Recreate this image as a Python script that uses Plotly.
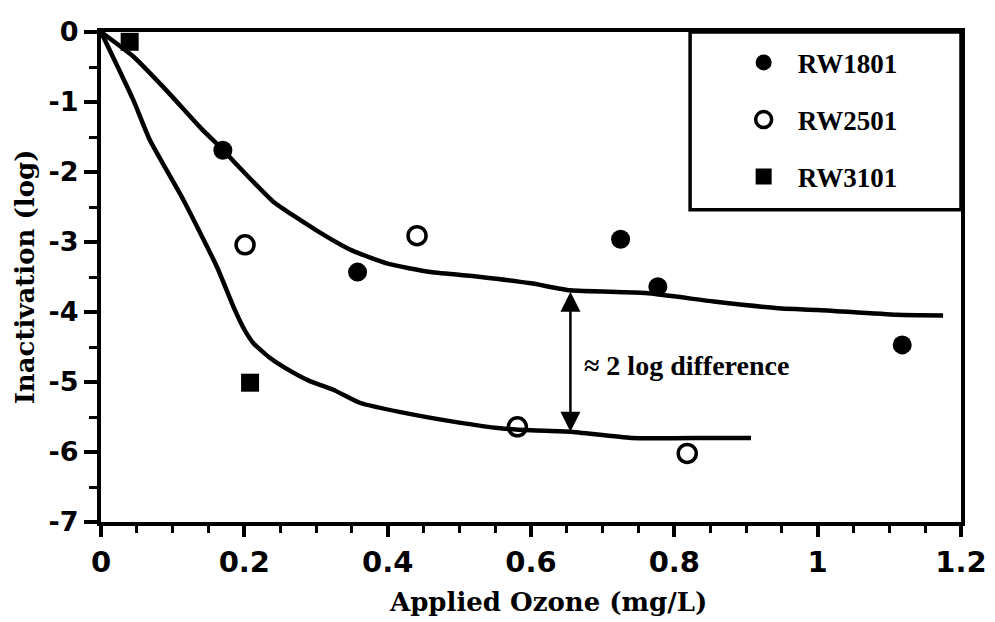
import plotly.graph_objects as go

# ---- data ----
rw1801_x = [0.17, 0.358, 0.725, 0.777, 1.118]
rw1801_y = [-1.69, -3.43, -2.96, -3.64, -4.47]

rw2501_x = [0.201, 0.441, 0.581, 0.818]
rw2501_y = [-3.04, -2.91, -5.64, -6.02]

rw3101_x = [0.04, 0.208]
rw3101_y = [-0.14, -5.01]

upper_x = [0, 0.045, 0.09, 0.14, 0.17, 0.19, 0.24, 0.3, 0.35, 0.4, 0.46, 0.53, 0.6, 0.655, 0.76, 0.855, 0.95, 1.0, 1.11, 1.175]
upper_y = [0, -0.35, -0.82, -1.38, -1.68, -1.9, -2.42, -2.83, -3.12, -3.31, -3.43, -3.5, -3.59, -3.69, -3.73, -3.85, -3.95, -3.97, -4.04, -4.05]

lower_x = [0, 0.045, 0.068, 0.115, 0.162, 0.185, 0.2, 0.213, 0.235, 0.254, 0.29, 0.324, 0.362, 0.418, 0.5, 0.557, 0.6, 0.655, 0.74, 0.85, 0.907]
lower_y = [0, -0.97, -1.54, -2.4, -3.36, -3.93, -4.25, -4.45, -4.65, -4.78, -4.98, -5.11, -5.3, -5.43, -5.58, -5.66, -5.69, -5.71, -5.8, -5.8, -5.8]

arrow_x = 0.655
arrow_top = -3.69
arrow_bottom = -5.71
note_text = "≈ 2 log difference"

x_ticks = [0, 0.2, 0.4, 0.6, 0.8, 1, 1.2]
x_ticktext = ["0", "0.2", "0.4", "0.6", "0.8", "1", "1.2"]
y_ticks = [0, -1, -2, -3, -4, -5, -6, -7]
y_ticktext = ["0", "-1", "-2", "-3", "-4", "-5", "-6", "-7"]

x_title = "Applied Ozone (mg/L)"
y_title = "Inactivation (log)"

serif = "Liberation Serif"
wide_serif = "DejaVu Serif"
sans = "DejaVu Sans"

fig = go.Figure()

fig.add_trace(go.Scatter(x=upper_x, y=upper_y, mode="lines", line=dict(color="black", width=4.5, shape="spline", smoothing=0.5),
                         showlegend=False, hoverinfo="skip"))
fig.add_trace(go.Scatter(x=lower_x, y=lower_y, mode="lines", line=dict(color="black", width=4.5, shape="spline", smoothing=0.5),
                         showlegend=False, hoverinfo="skip"))

fig.add_trace(go.Scatter(x=rw1801_x, y=rw1801_y, mode="markers", name="RW1801", legendgroup="a",
                         marker=dict(symbol="circle", size=19, color="black", line=dict(color="black", width=0))))
fig.add_trace(go.Scatter(x=rw2501_x, y=rw2501_y, mode="markers", name="RW2501", legendgroup="b",
                         marker=dict(symbol="circle-open", size=18, color="black", line=dict(color="black", width=3.5))))
fig.add_trace(go.Scatter(x=rw3101_x, y=rw3101_y, mode="markers", name="RW3101", legendgroup="c",
                         marker=dict(symbol="square", size=18, color="black", line=dict(color="black", width=0))))

# double-headed arrow
fig.add_annotation(x=arrow_x, y=arrow_bottom, ax=arrow_x, ay=arrow_top, xref="x", yref="y", axref="x", ayref="y",
                   text="", showarrow=True, arrowhead=2, startarrowhead=2, arrowside="end+start",
                   arrowsize=1.6, startarrowsize=1.6, arrowwidth=2.5, arrowcolor="black")
fig.add_annotation(x=arrow_x + 0.016, y=(arrow_top + arrow_bottom) / 2 - 0.07, xref="x", yref="y", text="<b>" + note_text + "</b>",
                   showarrow=False, xanchor="left", yanchor="middle",
                   font=dict(family=serif, size=28, color="black"))

# axis titles
fig.add_annotation(x=0.52, y=-0.163, xref="paper", yref="paper", text="<b>" + x_title + "</b>", showarrow=False,
                   xanchor="center", yanchor="middle", font=dict(family=wide_serif, size=26, color="black"))
fig.add_annotation(x=-0.088, y=0.5, xref="paper", yref="paper", text="<b>" + y_title + "</b>", showarrow=False,
                   textangle=-90, xanchor="center", yanchor="middle", font=dict(family=wide_serif, size=26, color="black"))

# legend box
fig.add_shape(type="rect", xref="paper", yref="paper", x0=0.685, x1=1.0, y0=0.637, y1=1.0,
              line=dict(color="black", width=3.5), fillcolor="rgba(0,0,0,0)", layer="above")

fig.update_layout(
    width=987, height=614,
    margin=dict(l=93, r=34, t=24, b=100),
    paper_bgcolor="white", plot_bgcolor="white",
    showlegend=True,
    legend=dict(x=0.731, y=0.987, xanchor="left", yanchor="top", bgcolor="rgba(0,0,0,0)", borderwidth=0,
                traceorder="grouped", tracegroupgap=19, itemwidth=58,
                font=dict(family=serif, size=27, color="black", weight="bold")),
    xaxis=dict(range=[0, 1.2], tickvals=x_ticks, ticktext=x_ticktext, ticks="outside", ticklen=11, tickwidth=3.5,
               tickcolor="black", showline=True, linewidth=4, linecolor="black", mirror=True, showgrid=False,
               zeroline=False, automargin=False, tickfont=dict(family=sans, size=29, color="black", weight="bold"),
               minor=dict(dtick=0.05, ticks="outside", ticklen=7, tickwidth=3, tickcolor="black", showgrid=False)),
    yaxis=dict(range=[-7, 0], tickvals=y_ticks, ticktext=y_ticktext, ticks="outside", ticklen=13, tickwidth=3.5,
               tickcolor="black", showline=True, linewidth=4, linecolor="black", mirror=True, showgrid=False,
               zeroline=False, automargin=False, tickfont=dict(family=sans, size=27, color="black", weight="bold"),
               minor=dict(dtick=0.5, ticks="outside", ticklen=8, tickwidth=3, tickcolor="black", showgrid=False)),
)

fig.write_html("out.html")
